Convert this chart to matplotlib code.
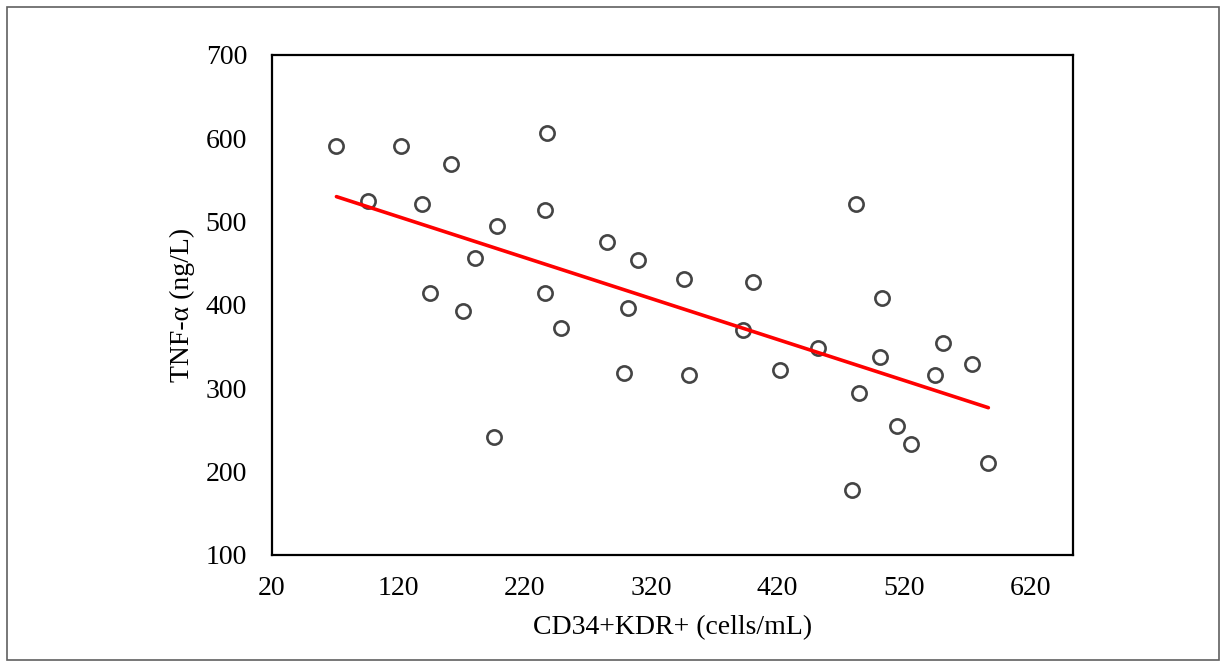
import numpy as np
import matplotlib
matplotlib.use("Agg")
import matplotlib.pyplot as plt
from matplotlib.patches import Rectangle

# CD34+KDR+ (cells/mL) vs TNF-alpha (ng/L)
cd34_kdr = [71, 96, 122, 139, 145, 162, 171, 181, 198, 196,
            236, 238, 236, 249, 285, 302, 299, 310, 346, 350,
            393, 401, 422, 452, 482, 479, 485, 503, 501, 515,
            526, 545, 551, 574, 587]
tnf_alpha = [591, 525, 591, 521, 415, 569, 393, 457, 495, 242,
             514, 607, 415, 373, 476, 396, 319, 454, 431, 316,
             370, 428, 322, 348, 521, 178, 294, 409, 338, 255,
             233, 316, 354, 329, 210]

x_ticks = [20, 120, 220, 320, 420, 520, 620]
y_ticks = [100, 200, 300, 400, 500, 600, 700]

plt.rcParams["font.family"] = ["Liberation Serif", "DejaVu Serif"]

fig = plt.figure(figsize=(12.27, 6.68), dpi=100)
ax = fig.add_axes([272 / 1227, 1 - 555 / 668, (1073 - 272) / 1227, (555 - 55) / 668])

fig.patches.append(Rectangle((7 / 1227, 8 / 668), 1212 / 1227, 653 / 668,
                             transform=fig.transFigure, fill=False,
                             edgecolor="#606060", linewidth=1.2))

ax.scatter(cd34_kdr, tnf_alpha, s=105, facecolor="white", edgecolor="#444444",
           linewidth=1.9, zorder=3)

x = np.array(cd34_kdr, dtype=float)
y = np.array(tnf_alpha, dtype=float)
slope, intercept = np.polyfit(x, y, 1)
xs = np.array([x.min(), x.max()])
ax.plot(xs, slope * xs + intercept, color="red", linewidth=2.6, zorder=4,
        solid_capstyle="round")

ax.set_xlim(20, 654)
ax.set_ylim(100, 700)
ax.set_xticks(x_ticks)
ax.set_yticks(y_ticks)
ax.tick_params(length=0, labelsize=20)
ax.tick_params(axis="x", pad=15)
ax.tick_params(axis="y", pad=18)
for s in ax.spines.values():
    s.set_linewidth(1.6)
    s.set_color("black")

ax.set_xlabel("CD34+KDR+ (cells/mL)", fontsize=20, labelpad=10)
ax.set_ylabel("TNF-α (ng/L)", fontsize=20, labelpad=8)

fig.savefig("out.png", dpi=100)
